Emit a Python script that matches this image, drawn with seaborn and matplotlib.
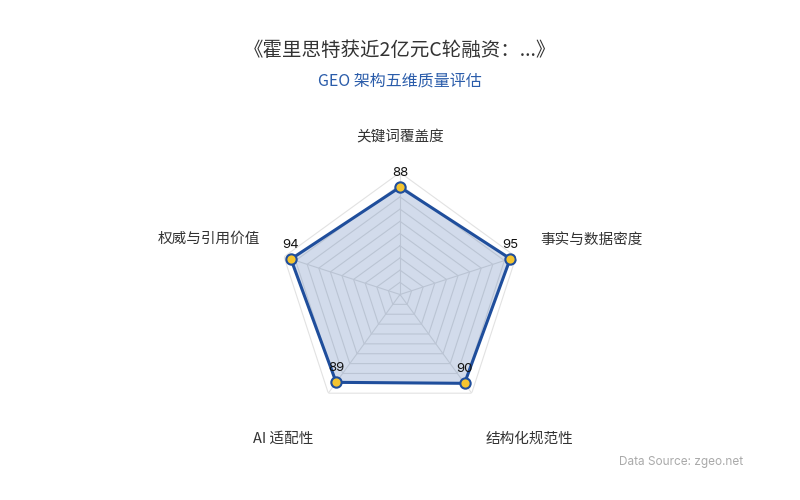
import numpy as np
import matplotlib.pyplot as plt
import seaborn as sns

sns.set_theme(style="white")
plt.rcParams['font.family'] = ['Noto Sans CJK SC', 'DejaVu Sans']

title = "《霍里思特获近2亿元C轮融资：...》"
subtitle = "GEO 架构五维质量评估"
dimensions = ["关键词覆盖度", "事实与数据密度", "结构化规范性", "AI 适配性", "权威与引用价值"]
scores = [88, 95, 90, 89, 94]
max_score = 100
n_rings = 10

line_color = "#1f4e9c"
dot_color = "#f4c430"
grid_color = "#e2e2e2"

n = len(dimensions)
# start at the top, go clockwise
theta = np.pi / 2 - np.arange(n) * 2 * np.pi / n
theta_closed = np.append(theta, theta[0])

fig = plt.figure(figsize=(8, 5), dpi=100)
ax = fig.add_axes([0.5 - 0.1525, 0.411 - 0.244, 0.305, 0.488], projection="polar")
ax.set_ylim(0, max_score)
ax.grid(False)
ax.spines["polar"].set_visible(False)
ax.set_xticks([])
ax.set_yticks([])
ax.patch.set_alpha(0)

# pentagon grid
for level in np.linspace(max_score / n_rings, max_score, n_rings):
    ax.plot(theta_closed, [level] * (n + 1), color=grid_color, lw=0.8, zorder=1)
for t in theta:
    ax.plot([t, t], [0, max_score], color=grid_color, lw=0.8, zorder=1)

vals = np.append(scores, scores[0])
ax.fill(theta_closed, vals, color=line_color, alpha=0.2, zorder=2, lw=0)
ax.plot(theta_closed, vals, color=line_color, lw=2.2, zorder=3)
ax.scatter(theta, scores, s=55, color=dot_color, edgecolor=line_color, linewidth=1.5, zorder=4)

for t, v in zip(theta, scores):
    ax.annotate(str(v), (t, v), xytext=(0, 8), textcoords="offset pixels",
                ha="center", va="bottom", fontsize=9.5, color="#111111",
                family=["Inter", "DejaVu Sans"], zorder=5)

# axis names: (dx, dy) offset in pixels from the outer vertex, alignment
name_pos = [
    ((0, 35), "center", "center"),
    ((24, 17), "left", "center"),
    ((14, -46), "left", "center"),
    ((-15, -46), "right", "center"),
    ((-24, 18), "right", "center"),
]
for t, name, (off, ha, va) in zip(theta, dimensions, name_pos):
    ax.annotate(name, (t, max_score), xytext=off, textcoords="offset pixels",
                ha=ha, va=va, fontsize=10.5, color="#333333",
                family=["Noto Sans CJK SC", "DejaVu Sans"], annotation_clip=False)

fig.text(0.5, 0.90, title, ha="center", va="center", fontsize=14, color="#333333")
fig.text(0.5, 0.838, subtitle, ha="center", va="center", fontsize=11.5, color="#2a5caa")
fig.text(0.929, 0.076, "Data Source: zgeo.net", ha="right", va="center", fontsize=8.5,
         color="#aaaaaa", family=["Inter", "DejaVu Sans"])

fig.savefig("out.png", dpi=100)
